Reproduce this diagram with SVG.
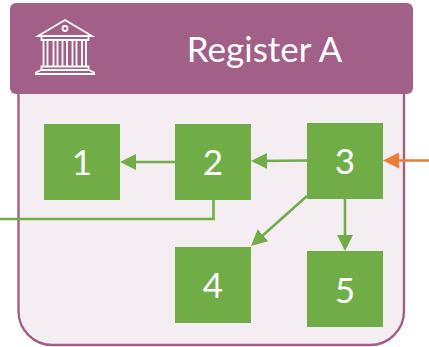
<svg xmlns="http://www.w3.org/2000/svg" width="429" height="347" viewBox="0 0 429 347">
<style>
.sq{fill:#70ad47}
.n{font-family:Lato,"Open Sans",sans-serif;font-size:35px;fill:#fff;text-anchor:middle}
.c{fill:none;stroke:#70ad47;stroke-width:2.6}
.ic{fill:none;stroke:#fff;stroke-width:1.8}
</style>
<defs>
<marker id="g" markerUnits="userSpaceOnUse" markerWidth="17" markerHeight="17" refX="12" refY="8.500" orient="auto"><path d="M0 .5L16 8.500L0 16.500z" fill="#70ad47"/></marker>
<marker id="o" markerUnits="userSpaceOnUse" markerWidth="17" markerHeight="17" refX="12" refY="8.500" orient="auto"><path d="M0 .5L16 8.500L0 16.500z" fill="#ed7d31"/></marker>
</defs>
<g id="register">
<rect x="18.500" y="60" width="385.500" height="285" rx="34" fill="#f4eef3" stroke="#a25f88" stroke-width="2.400"/>
<rect x="10" y="3" width="403" height="91" rx="6" fill="#a25f88"/>
<text x="264.500" y="62" font-family="Lato,'Open Sans',sans-serif" font-size="35" fill="#fff" text-anchor="middle">Register A</text>
<g id="icon" class="ic">
<path d="M38 36L65 20L92 36z"/>
<circle cx="65" cy="28.500" r="2.500"/>
<path d="M41.500 36.500V40H88.500V36.500M43.500 40V66M47.500 40V66M53.500 40V66M57.500 40V66M62.500 40V66M67 40V66M72.500 40V66M76.500 40V66M82 40V66M86 40V66M41.500 66.500H88.500V70H41.500zM41 70L36 72.500V74H94V72.500L89 70"/>
</g>
</g>
<g id="connectors">
<path class="c" d="M175 162H124" marker-end="url(#g)"/>
<path class="c" d="M307 160.500L255 161" marker-end="url(#g)"/>
<path class="c" d="M307 196L254 243.300" marker-end="url(#g)"/>
<path class="c" d="M345 199V247" marker-end="url(#g)"/>
<path class="c" d="M213.500 200V219H0"/>
<path d="M429 160.500H387" fill="none" stroke="#ed7d31" stroke-width="2.600" marker-end="url(#o)"/>
</g>
<g id="n1"><rect class="sq" x="44" y="124" width="76" height="76"/><text class="n" x="82" y="174.500">1</text></g>
<g id="n2"><rect class="sq" x="175" y="124" width="76" height="76"/><text class="n" x="213" y="174.500">2</text></g>
<g id="n3"><rect class="sq" x="307" y="123" width="76" height="76"/><text class="n" x="345" y="174">3</text></g>
<g id="n4"><rect class="sq" x="175" y="247" width="76" height="76"/><text class="n" x="213" y="298">4</text></g>
<g id="n5"><rect class="sq" x="307" y="251" width="76" height="76"/><text class="n" x="345" y="302.500">5</text></g>
</svg>
